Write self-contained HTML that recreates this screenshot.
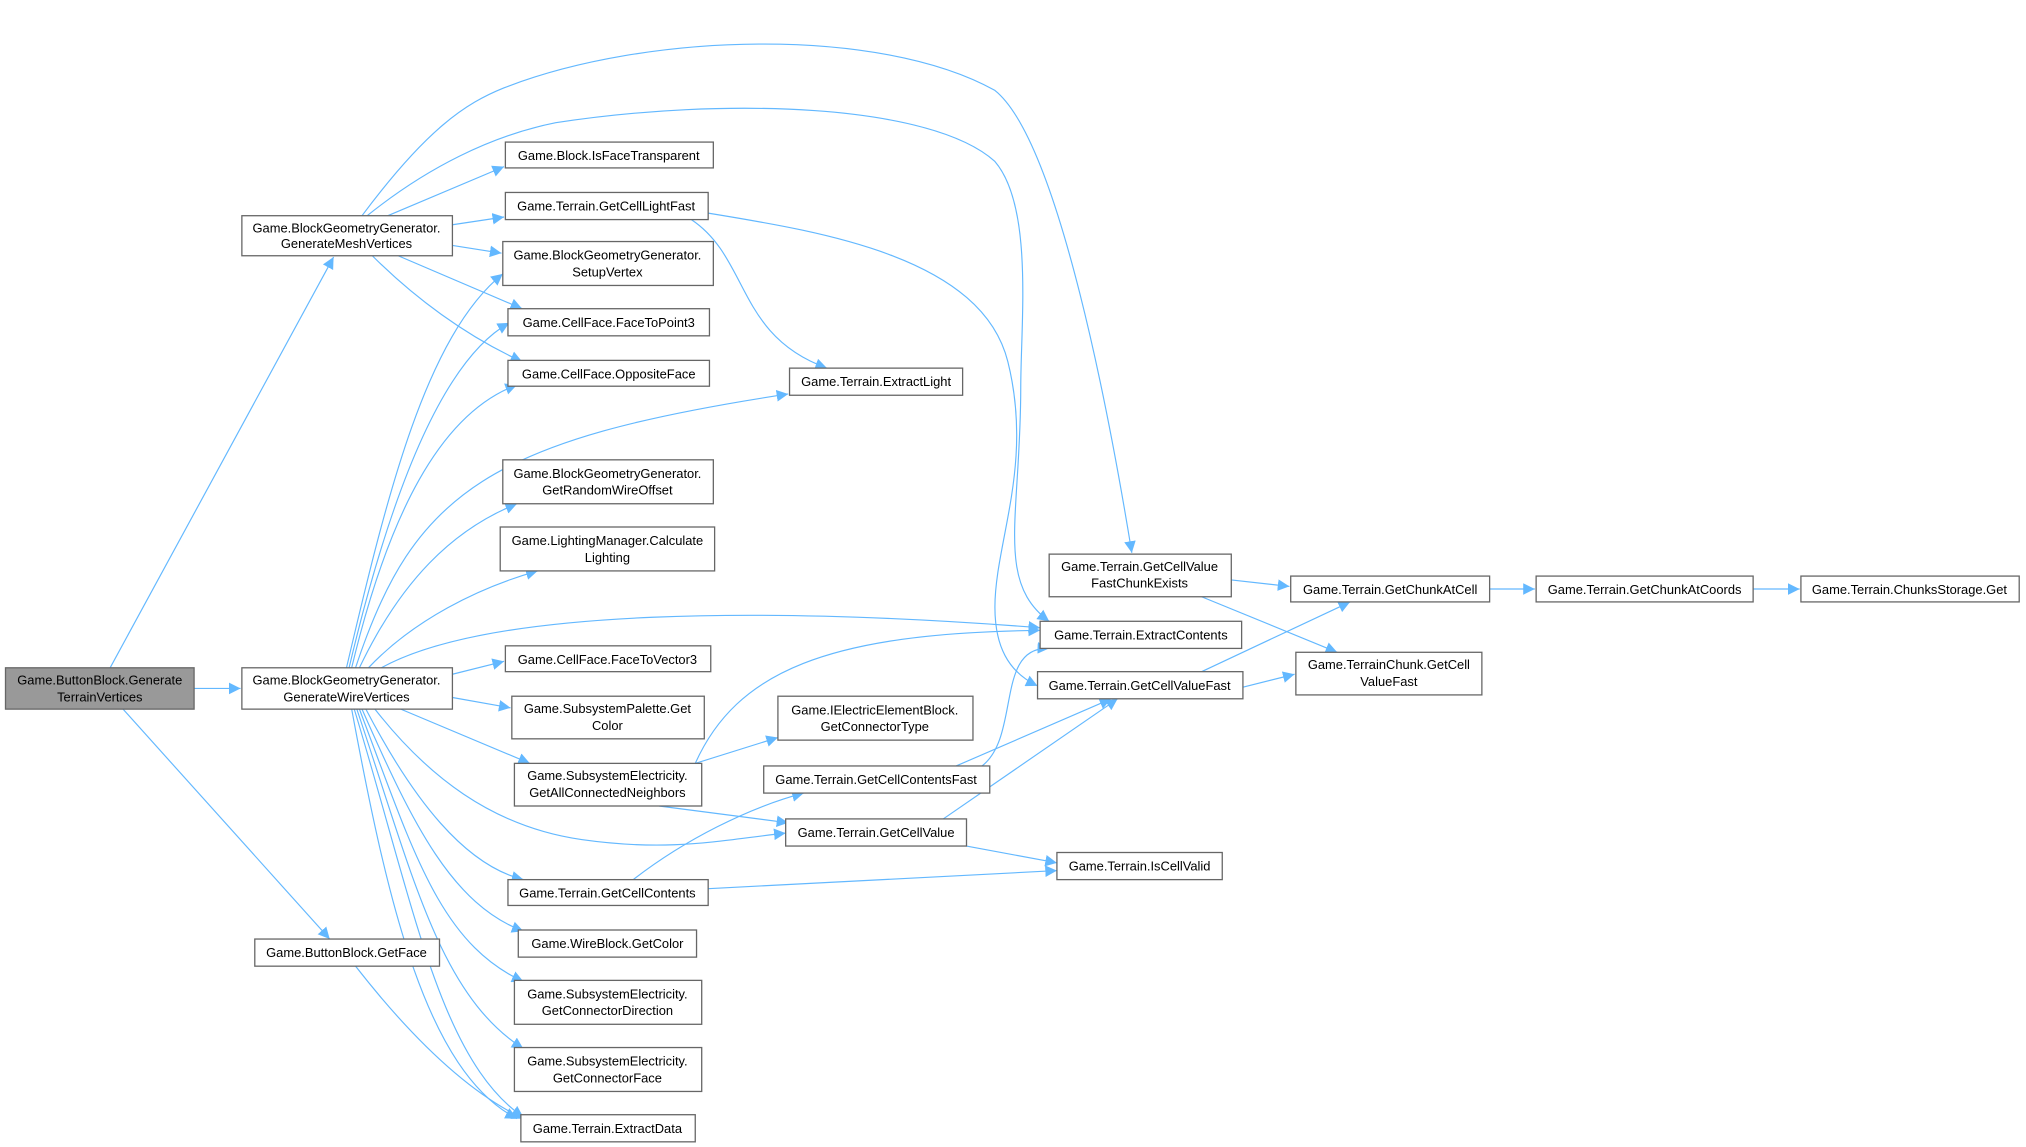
<!DOCTYPE html>
<html><head><meta charset="utf-8"><style>
html,body{margin:0;padding:0;background:#fff;}
svg{display:block;}
text{font-family:"Liberation Sans",Arial,sans-serif;font-size:10px;fill:#000;text-anchor:middle;}
.n{fill:#fff;stroke:#666;stroke-width:1;}
.e{fill:none;stroke:#63b8ff;stroke-width:0.9;}
</style></head><body>
<svg width="2026" height="1147" viewBox="0 0 1568 888" xmlns="http://www.w3.org/2000/svg">
<defs><marker id="a" viewBox="0 0 10 10" refX="10" refY="5" markerWidth="9" markerHeight="9" markerUnits="userSpaceOnUse" orient="auto"><path d="M0,0 L10,5 L0,10 z" fill="#63b8ff"/></marker></defs>
<g class="e" marker-end="url(#a)">
<path d="M85,517 L258,199"/>
<path d="M150,533 L186,533"/>
<path d="M95,549 L255,727"/>
<path d="M280,167 C330,100 360,80 390,68 C500,25 680,20 770,70 C820,110 860,330 876,428"/>
<path d="M284,167 C330,130 380,105 430,95 C560,75 720,80 770,125 C800,160 790,250 790,300 C790,400 770,450 812,481"/>
<path d="M300,167 L390,129"/>
<path d="M350,174 L390,168"/>
<path d="M350,190 L388,196"/>
<path d="M308,198 L404,239"/>
<path d="M288,198 C320,230 360,260 404,280"/>
<path d="M535,170 C580,200 570,260 640,285"/>
<path d="M548,165 C640,180 760,200 780,280 C800,360 770,420 770,470 C770,500 780,520 803,531"/>
<path d="M268,517 C300,380 330,260 389,212"/>
<path d="M270,517 C300,390 340,280 394,250"/>
<path d="M272,517 C300,400 340,320 400,298"/>
<path d="M275,517 C320,380 380,340 610,305"/>
<path d="M278,517 C310,450 350,410 400,390"/>
<path d="M285,517 C320,480 370,455 416,442"/>
<path d="M295,517 C380,470 600,470 805,486"/>
<path d="M350,522 L390,512"/>
<path d="M350,540 L395,548"/>
<path d="M310,549 L410,591"/>
<path d="M290,549 C330,600 380,640 450,650 C520,660 560,650 608,645"/>
<path d="M283,549 C320,620 360,670 405,681"/>
<path d="M280,549 C320,640 350,700 405,721"/>
<path d="M278,549 C320,660 340,730 405,760"/>
<path d="M276,549 C320,680 340,770 405,812"/>
<path d="M274,549 C320,700 340,820 405,865"/>
<path d="M272,549 C300,700 330,830 400,866"/>
<path d="M275,748 C300,780 350,840 405,866"/>
<path d="M538,591 L602,571"/>
<path d="M538,591 C570,520 640,490 805,488"/>
<path d="M510,624 L610,637"/>
<path d="M490,681 C530,650 580,625 622,614"/>
<path d="M548,688 L818,674"/>
<path d="M760,593 C790,570 770,500 812,502"/>
<path d="M740,593 L860,541"/>
<path d="M730,634 L865,541"/>
<path d="M748,655 L818,668"/>
<path d="M953,449 L998,454"/>
<path d="M930,462 L1035,505"/>
<path d="M930,520 L1045,466"/>
<path d="M962,532 L1002,522"/>
<path d="M1153,456 L1188,456"/>
<path d="M1357,456 L1393,456"/>
</g>
<rect x="4" y="517" width="146" height="32" fill="#999" stroke="#666"/>
<text x="77" y="530">Game.ButtonBlock.Generate</text><text x="77" y="543">TerrainVertices</text>
<rect class="n" x="187" y="167" width="163" height="31"/><text x="268" y="180">Game.BlockGeometryGenerator.</text><text x="268" y="192">GenerateMeshVertices</text>
<rect class="n" x="187" y="517" width="163" height="32"/><text x="268" y="530">Game.BlockGeometryGenerator.</text><text x="268" y="543">GenerateWireVertices</text>
<rect class="n" x="197" y="727" width="143" height="21"/><text x="268" y="741">Game.ButtonBlock.GetFace</text>
<rect class="n" x="391" y="110" width="161" height="20"/><text x="471" y="124">Game.Block.IsFaceTransparent</text>
<rect class="n" x="391" y="149" width="157" height="21"/><text x="469" y="163">Game.Terrain.GetCellLightFast</text>
<rect class="n" x="389" y="187" width="163" height="34"/><text x="470" y="201">Game.BlockGeometryGenerator.</text><text x="470" y="214">SetupVertex</text>
<rect class="n" x="393" y="239" width="156" height="21"/><text x="471" y="253">Game.CellFace.FaceToPoint3</text>
<rect class="n" x="393" y="279" width="156" height="20"/><text x="471" y="293">Game.CellFace.OppositeFace</text>
<rect class="n" x="611" y="285" width="134" height="21"/><text x="678" y="299">Game.Terrain.ExtractLight</text>
<rect class="n" x="389" y="356" width="163" height="34"/><text x="470" y="370">Game.BlockGeometryGenerator.</text><text x="470" y="383">GetRandomWireOffset</text>
<rect class="n" x="387" y="408" width="166" height="34"/><text x="470" y="422">Game.LightingManager.Calculate</text><text x="470" y="435">Lighting</text>
<rect class="n" x="391" y="500" width="159" height="20"/><text x="470" y="514">Game.CellFace.FaceToVector3</text>
<rect class="n" x="396" y="539" width="149" height="33"/><text x="470" y="552">Game.SubsystemPalette.Get</text><text x="470" y="565">Color</text>
<rect class="n" x="398" y="591" width="145" height="33"/><text x="470" y="604">Game.SubsystemElectricity.</text><text x="470" y="617">GetAllConnectedNeighbors</text>
<rect class="n" x="393" y="681" width="155" height="20"/><text x="470" y="695">Game.Terrain.GetCellContents</text>
<rect class="n" x="401" y="720" width="138" height="21"/><text x="470" y="734">Game.WireBlock.GetColor</text>
<rect class="n" x="398" y="759" width="145" height="34"/><text x="470" y="773">Game.SubsystemElectricity.</text><text x="470" y="786">GetConnectorDirection</text>
<rect class="n" x="398" y="811" width="145" height="34"/><text x="470" y="825">Game.SubsystemElectricity.</text><text x="470" y="838">GetConnectorFace</text>
<rect class="n" x="403" y="863" width="135" height="21"/><text x="470" y="877">Game.Terrain.ExtractData</text>
<rect class="n" x="602" y="539" width="151" height="34"/><text x="677" y="553">Game.IElectricElementBlock.</text><text x="677" y="566">GetConnectorType</text>
<rect class="n" x="591" y="593" width="175" height="21"/><text x="678" y="607">Game.Terrain.GetCellContentsFast</text>
<rect class="n" x="608" y="634" width="140" height="21"/><text x="678" y="648">Game.Terrain.GetCellValue</text>
<rect class="n" x="812" y="429" width="141" height="33"/><text x="882" y="442">Game.Terrain.GetCellValue</text><text x="882" y="455">FastChunkExists</text>
<rect class="n" x="805" y="481" width="156" height="21"/><text x="883" y="495">Game.Terrain.ExtractContents</text>
<rect class="n" x="803" y="520" width="159" height="21"/><text x="882" y="534">Game.Terrain.GetCellValueFast</text>
<rect class="n" x="818" y="660" width="128" height="21"/><text x="882" y="674">Game.Terrain.IsCellValid</text>
<rect class="n" x="999" y="446" width="154" height="20"/><text x="1076" y="460">Game.Terrain.GetChunkAtCell</text>
<rect class="n" x="1003" y="505" width="144" height="33"/><text x="1075" y="518">Game.TerrainChunk.GetCell</text><text x="1075" y="531">ValueFast</text>
<rect class="n" x="1189" y="446" width="168" height="20"/><text x="1273" y="460">Game.Terrain.GetChunkAtCoords</text>
<rect class="n" x="1394" y="446" width="169" height="20"/><text x="1478" y="460">Game.Terrain.ChunksStorage.Get</text>
</svg>
</body></html>
